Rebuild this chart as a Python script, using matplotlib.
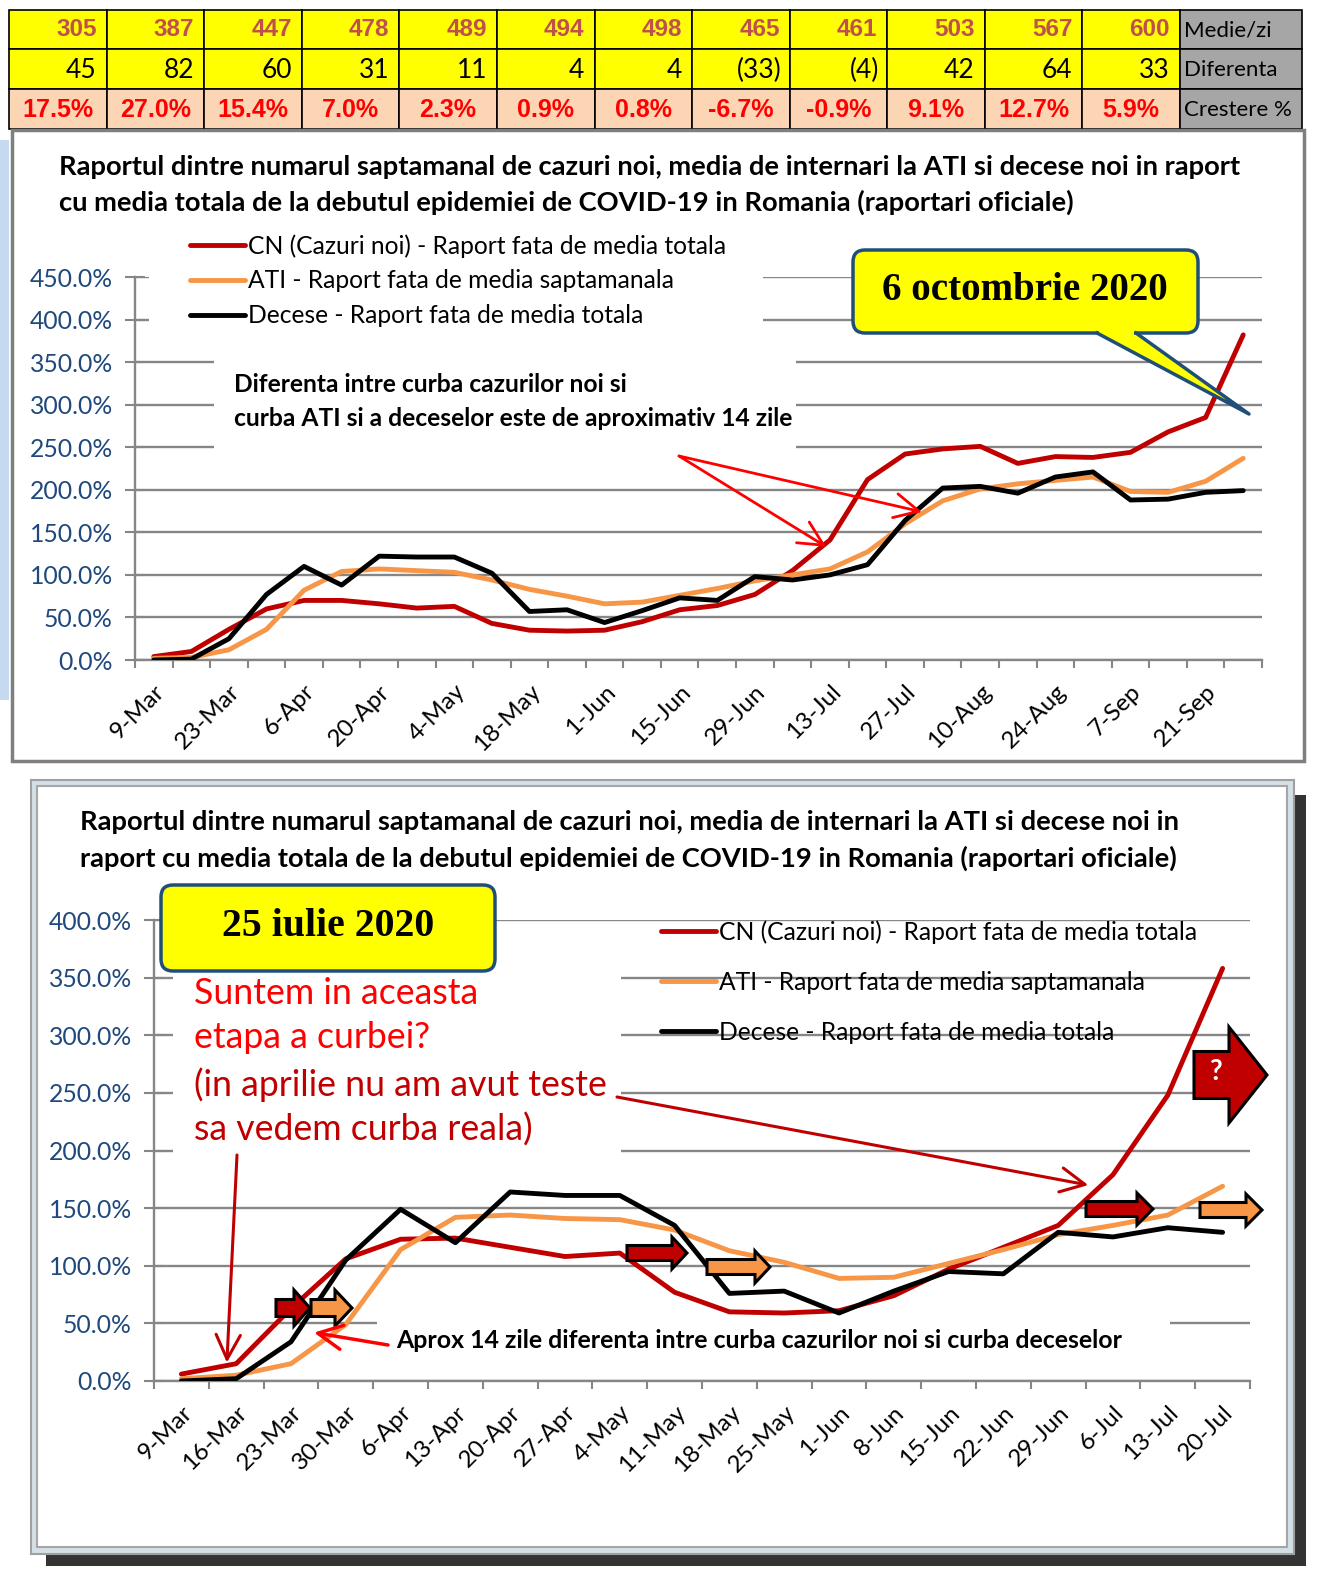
import matplotlib
matplotlib.use('Agg')
import matplotlib.pyplot as plt
from matplotlib.patches import Rectangle, FancyBboxPatch, Polygon, FancyArrow
from matplotlib.ticker import FuncFormatter
import numpy as np

W, H = 1321, 1575

# --- tabel (medii zilnice pe saptamana) ---
medie_zi = [305, 387, 447, 478, 489, 494, 498, 465, 461, 503, 567, 600]
diferenta = [45, 82, 60, 31, 11, 4, 4, -33, -4, 42, 64, 33]
crestere = [17.5, 27.0, 15.4, 7.0, 2.3, 0.9, 0.8, -6.7, -0.9, 9.1, 12.7, 5.9]
randuri = ['Medie/zi', 'Diferenta', 'Crestere %']

# --- saptamani ---
saptamani = ['9-Mar', '16-Mar', '23-Mar', '30-Mar', '6-Apr', '13-Apr', '20-Apr', '27-Apr',
             '4-May', '11-May', '18-May', '25-May', '1-Jun', '8-Jun', '15-Jun', '22-Jun',
             '29-Jun', '6-Jul', '13-Jul', '20-Jul', '27-Jul', '3-Aug', '10-Aug', '17-Aug',
             '24-Aug', '31-Aug', '7-Sep', '14-Sep', '21-Sep', '28-Sep']

# grafic 6 octombrie 2020 (procente)
cn_oct = [4, 10, 36, 60, 70, 70, 66, 61, 63, 43, 35, 34, 35, 45, 59, 64, 77, 105, 141, 212,
          242, 248, 251, 231, 239, 238, 244, 268, 285, 382]
ati_oct = [2, 3, 12, 36, 82, 104, 107, 105, 103, 94, 83, 75, 66, 68, 76, 84, 93, 100, 107, 127,
           160, 187, 201, 207, 211, 215, 198, 197, 210, 237]
dec_oct = [0, 1, 25, 77, 110, 88, 122, 121, 121, 102, 57, 59, 44, 58, 73, 70, 98, 94, 100, 112,
           164, 202, 204, 196, 215, 221, 188, 189, 197, 199]

# grafic 25 iulie 2020 (procente)
cn_iul = [6, 15, 63, 106, 123, 124, 116, 108, 111, 77, 60, 59, 61, 74, 97, 116, 135, 179, 248, 358]
ati_iul = [2, 5, 15, 49, 114, 142, 144, 141, 140, 131, 113, 103, 89, 90, 102, 114, 127, 135, 144, 169]
dec_iul = [0, 2, 34, 105, 149, 120, 164, 161, 161, 135, 76, 78, 59, 78, 95, 93, 129, 125, 133, 129]

serii = ['CN (Cazuri noi) - Raport fata de media totala',
         'ATI - Raport fata de media saptamanala',
         'Decese - Raport fata de media totala']
culori = ['#C00000', '#F79646', '#000000']

SANS = ['Lato', 'DejaVu Sans']
ARIAL = ['Liberation Sans', 'DejaVu Sans']
SERIF = ['Liberation Serif', 'DejaVu Serif']
GRAY = '#868686'
BLUE = '#1F497D'
RED = '#FF0000'
DRED = '#C00000'
ORANGE = '#F79646'

plt.rcParams['font.family'] = SANS

fig = plt.figure(figsize=(W / 100, H / 100), dpi=100)

bg = fig.add_axes([0, 0, 1, 1], zorder=0)
bg.set_xlim(0, W)
bg.set_ylim(H, 0)
bg.axis('off')

ov = fig.add_axes([0, 0, 1, 1], zorder=10)
ov.set_xlim(0, W)
ov.set_ylim(H, 0)
ov.axis('off')
ov.patch.set_alpha(0)

# ---------------- tabel ----------------
x0, x1, x2 = 9, 1180, 1302
cw = (x1 - x0) / len(medie_zi)
ry = [10, 49, 89, 129]
fills = ['#FFFF00', '#FFFF00', '#FCD5B4']
for r in range(3):
    h = ry[r + 1] - ry[r]
    for j in range(len(medie_zi)):
        bg.add_patch(Rectangle((x0 + j * cw, ry[r]), cw, h, fc=fills[r], ec='black', lw=1.2))
    bg.add_patch(Rectangle((x1, ry[r]), x2 - x1, h, fc='#A6A6A6', ec='black', lw=1.2))
    ov.text(x1 + 4, (ry[r] + ry[r + 1]) / 2 + 1, randuri[r], fontsize=16, va='center', ha='left')

for j in range(len(medie_zi)):
    xr = x0 + (j + 1) * cw - 10
    xc = x0 + (j + 0.5) * cw
    ov.text(xr, 30, str(medie_zi[j]), family=ARIAL, weight='bold', fontsize=17.5,
            color='#C0504D', ha='right', va='center')
    d = diferenta[j]
    ov.text(xr + 2 if d < 0 else xr, 70, f'({-d})' if d < 0 else str(d), fontsize=19,
            ha='right', va='center')
    ov.text(xc, 110, f'{crestere[j]:.1f}%', family=ARIAL, weight='bold', fontsize=18,
            color=RED, ha='center', va='center')

# ---------------- panouri ----------------
bg.add_patch(Rectangle((0, 140), 9, 560, fc='#C5D9F1', ec='none'))
bg.add_patch(Rectangle((12, 130), 1292, 631, fc='white', ec='#7F7F7F', lw=2.5))
bg.add_patch(Rectangle((46, 795), 1260, 771, fc='#333333', ec='none'))
bg.add_patch(Rectangle((31, 780), 1263, 774, fc='#D5E0E6', ec='#A0A0A0', lw=1.5))
bg.add_patch(Rectangle((37, 786), 1250, 761, fc='white', ec='#A6A6A6', lw=1.5))


def grafic(l, r, b, t, cn, ati, dec, ymax, pas):
    ax = fig.add_axes([l / W, 1 - b / H, (r - l) / W, (b - t) / H], zorder=5)
    ax.set_facecolor('none')
    n = len(cn)
    x = np.arange(n)
    for vals, c, name in zip((cn, ati, dec), culori, serii):
        ax.plot(x, vals, color=c, lw=3.5, label=name, zorder=3,
                solid_joinstyle='round', solid_capstyle='round')
    ax.set_xlim(-0.5, n - 0.5)
    ax.set_ylim(0, ymax)
    ax.set_yticks(np.arange(0, ymax + 1, 50))
    ax.yaxis.set_major_formatter(FuncFormatter(lambda v, p: f'{v:.1f}%'))
    ax.tick_params(axis='y', direction='inout', length=14, width=1.5, color=GRAY,
                   labelsize=17.8, labelcolor=BLUE, pad=9)
    ax.set_xticks(x[::pas])
    ax.set_xticklabels(saptamani[:n][::pas], rotation=45, ha='right', va='top',
                       rotation_mode='anchor', fontsize=17.5)
    ax.tick_params(axis='x', which='major', length=0, pad=15)
    ax.set_xticks(np.arange(n + 1) - 0.5, minor=True)
    ax.tick_params(axis='x', which='minor', direction='out', length=6, width=1.5, color=GRAY)
    ax.grid(axis='y', color=GRAY, lw=1.7)
    ax.set_axisbelow(True)
    for s in ('top', 'right'):
        ax.spines[s].set_visible(False)
    for s in ('left', 'bottom'):
        ax.spines[s].set_color(GRAY)
        ax.spines[s].set_linewidth(1.7)
    return ax


def masca(ax, xa, ya, xb, yb):
    ax.add_patch(Rectangle((xa, ya), xb - xa, yb - ya, fc='white', ec='none', zorder=1,
                           transform=bg.transData, clip_on=False))


leg_kw = dict(loc='upper left', bbox_transform=fig.transFigure, frameon=False, fontsize=17.7,
              handlelength=2.25, handletextpad=0.12, borderpad=0, borderaxespad=0)

# ---------------- grafic sus ----------------
ax1 = grafic(135, 1262, 660, 277, cn_oct, ati_oct, dec_oct, 450, 2)
masca(ax1, 149, 228, 763, 338)
masca(ax1, 214, 352, 796, 453)
ax1.legend(bbox_to_anchor=(190 / W, 1 - 234 / H), labelspacing=0.48, **leg_kw)

titlu_sus = [ov.text(59, 167, 'Raportul dintre numarul saptamanal de cazuri noi, media de internari '
                             'la ATI si decese noi in raport', weight='bold', fontsize=17, va='center'),
             ov.text(59, 202, 'cu media totala de la debutul epidemiei de COVID-19 in Romania '
                             '(raportari oficiale)', weight='bold', fontsize=17, va='center')]
nota_sus = [ov.text(234, 385, 'Diferenta intre curba cazurilor noi si', weight='bold',
                    fontsize=15, va='center'),
            ov.text(234, 418, 'curba ATI si a deceselor este de aproximativ 14 zile', weight='bold',
                    fontsize=15, va='center')]
for xy in [(17.9, 133), (20.45, 174)]:
    ov.annotate('', xy=xy, xycoords=ax1.transData, xytext=(679, 456), textcoords=ov.transData,
                arrowprops=dict(arrowstyle='->,head_length=0.7,head_width=0.35', color=RED, lw=2,
                                mutation_scale=25, shrinkA=0, shrinkB=0))

# callout 6 octombrie
ov.add_patch(Polygon([(1097, 333), (1136, 333), (1249, 414)], closed=True, fc='#FFFF00', ec='none'))
ov.add_patch(FancyBboxPatch((853, 250), 345, 83, boxstyle='round,pad=0,rounding_size=12',
                            fc='#FFFF00', ec='#1F4E79', lw=2.5))
ov.plot([1099, 1134], [333, 333], color='#FFFF00', lw=4, solid_capstyle='butt')
ov.plot([1097, 1249, 1136], [333, 414, 333], color='#1F4E79', lw=2.5)
cal_sus = ov.text(1025, 291, '6 octombrie 2020', family=SERIF, weight='bold', fontsize=24,
                  ha='center', va='center')

# ---------------- grafic jos ----------------
ax2 = grafic(154, 1250, 1381, 920, cn_iul, ati_iul, dec_iul, 400, 1)
masca(ax2, 173, 972, 621, 1160)
masca(ax2, 377, 1318, 1170, 1362)
ax2.legend(bbox_to_anchor=(661 / W, 1 - 920 / H), labelspacing=1.1, **leg_kw)

titlu_jos = [ov.text(80, 822, 'Raportul dintre numarul saptamanal de cazuri noi, media de internari '
                             'la ATI si decese noi in', weight='bold', fontsize=17, va='center'),
             ov.text(80, 858, 'raport cu media totala de la debutul epidemiei de COVID-19 in Romania '
                             '(raportari oficiale)', weight='bold', fontsize=17, va='center')]

ov.add_patch(FancyBboxPatch((161, 885), 334, 86, boxstyle='round,pad=0,rounding_size=12',
                            fc='#FFFF00', ec='#1F4E79', lw=2.5))
cal_jos = ov.text(328, 927, '25 iulie 2020', family=SERIF, weight='bold', fontsize=24,
                  ha='center', va='center')

rosu = []
for y, s, c in [(993, 'Suntem in aceasta', RED), (1038, 'etapa a curbei?', RED),
                (1085, '(in aprilie nu am avut teste', DRED), (1130, 'sa vedem curba reala)', DRED)]:
    rosu.append(ov.text(194, y, s, color=c, fontsize=20, va='center'))

aprox = ov.text(396, 1340, 'Aprox 14 zile diferenta intre curba cazurilor noi si curba deceselor',
                weight='bold', fontsize=15, va='center')

ov.annotate('', xy=(0.83, 16), xycoords=ax2.transData, xytext=(237, 1155), textcoords=ov.transData,
            arrowprops=dict(arrowstyle='->,head_length=0.7,head_width=0.35', color=DRED, lw=2.2,
                            mutation_scale=25, shrinkA=0, shrinkB=0))
ov.annotate('', xy=(16.55, 170), xycoords=ax2.transData, xytext=(617, 1097), textcoords=ov.transData,
            arrowprops=dict(arrowstyle='->,head_length=0.7,head_width=0.35', color=DRED, lw=2.2,
                            mutation_scale=25, shrinkA=0, shrinkB=0))
ov.annotate('', xy=(2.42, 42), xycoords=ax2.transData, xytext=(388, 1345), textcoords=ov.transData,
            arrowprops=dict(arrowstyle='->,head_length=0.7,head_width=0.35', color=RED, lw=2.5,
                            mutation_scale=25, shrinkA=0, shrinkB=0))

# sageti bloc: x start, x end, y centru, corp, cap, lungime cap, culoare
sageti = [(276, 310, 1308, 17, 36, 16, DRED), (311, 352, 1308, 17, 36, 17, ORANGE),
          (627, 687, 1253, 15, 32, 15, DRED), (707, 770, 1267, 15, 32, 15, ORANGE),
          (1086, 1153, 1209, 15, 32, 16, DRED), (1200, 1262, 1210, 15, 32, 16, ORANGE),
          (1194, 1267, 1075, 47, 96, 38, DRED)]
for xa, xb, yc, corp, cap, lc, c in sageti:
    ov.add_patch(FancyArrow(xa, yc, xb - xa, 0, width=corp, head_width=cap, head_length=lc,
                            length_includes_head=True, fc=c, ec='black', lw=2.2))
ov.text(1215, 1072, '?', color='white', weight='bold', fontsize=20, ha='center', va='center')

# ---------------- potrivire latimi text ----------------
fig.canvas.draw()
rend = fig.canvas.get_renderer()


def potriveste(grup, ref, latime):
    f = latime / grup[ref].get_window_extent(rend).width
    for t in grup:
        t.set_fontsize(t.get_fontsize() * f)


potriveste(titlu_sus, 0, 1188)
potriveste(titlu_jos, 0, 1105)
potriveste(nota_sus, 1, 560)
potriveste(rosu, 2, 414)
potriveste([aprox], 0, 728)
potriveste([cal_sus], 0, 286)
potriveste([cal_jos], 0, 212)

fig.savefig('out.png', dpi=100)
